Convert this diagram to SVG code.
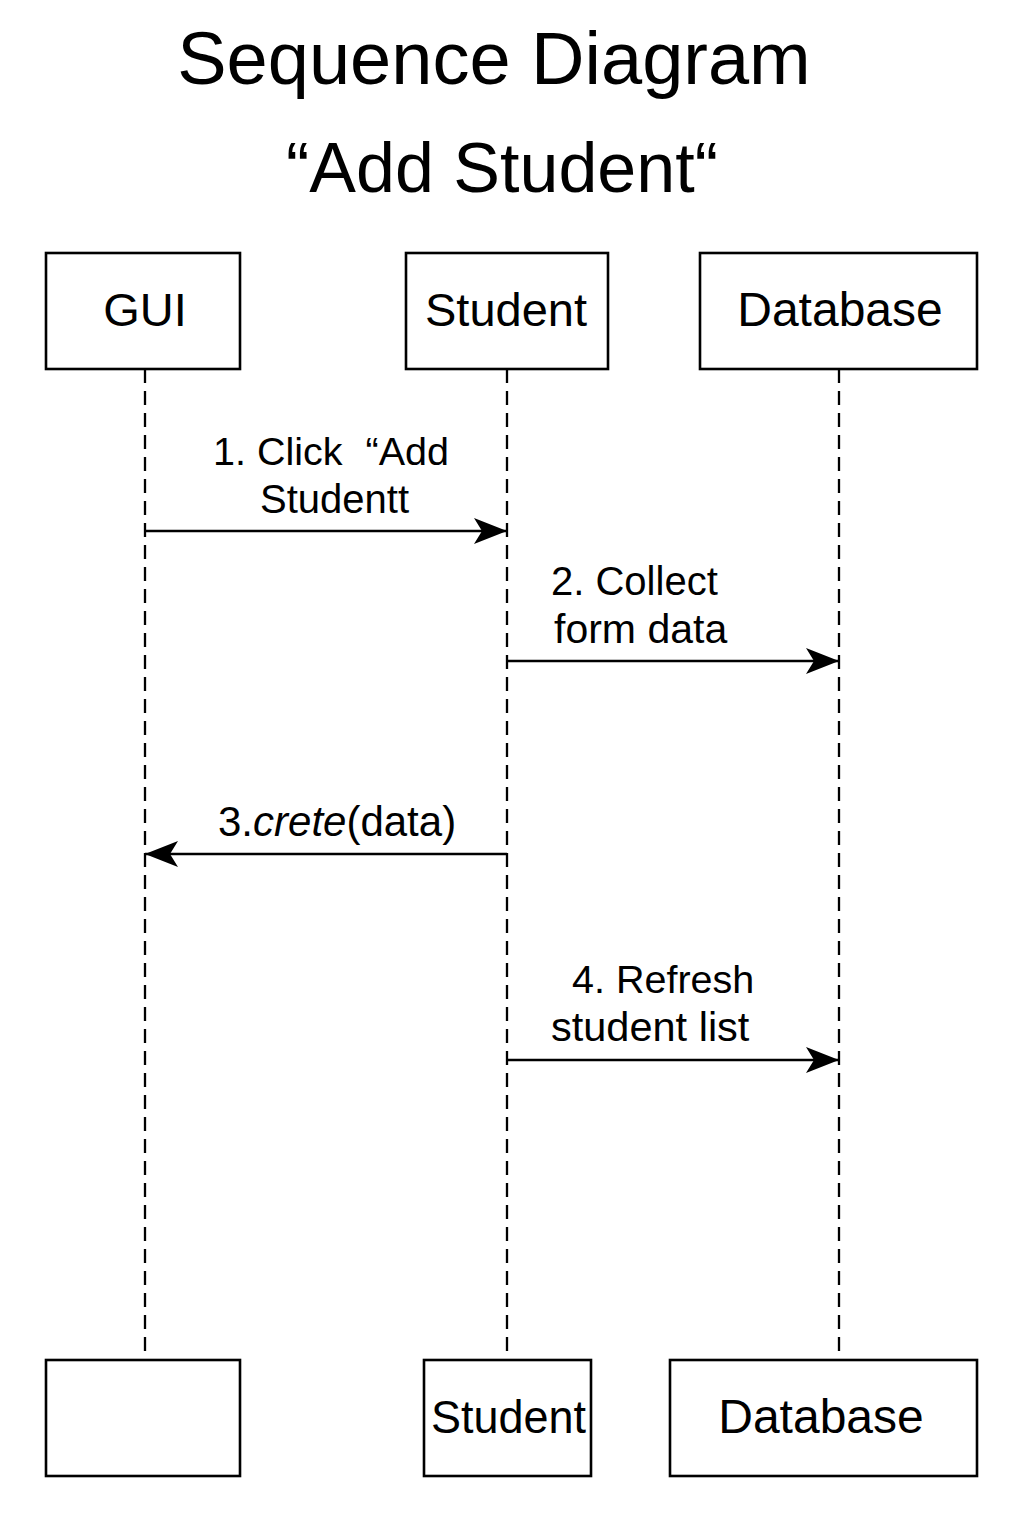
<svg xmlns="http://www.w3.org/2000/svg" width="1024" height="1536" viewBox="0 0 1024 1536">
<defs>
<style>
.t{font-family:"Liberation Sans",Arial,sans-serif;fill:#000}
.box{fill:#fff;stroke:#000;stroke-width:2.6}
.life{stroke:#000;stroke-width:2.3;stroke-dasharray:14 8;fill:none}
.msg{stroke:#000;stroke-width:2.6;fill:none}
</style>
<marker id="ah" markerUnits="userSpaceOnUse" markerWidth="36" markerHeight="28" refX="33" refY="13" orient="auto">
<path d="M0,0 L33,13 L0,26 L8,13 Z" fill="#000"/>
</marker>
</defs>
<rect width="1024" height="1536" fill="#fff"/>
<g id="title">
<text class="t" x="494" y="84" font-size="74" text-anchor="middle">Sequence Diagram</text>
<text class="t" x="502" y="192" font-size="70" text-anchor="middle">“Add Student“</text>
</g>
<g id="lifelines">
<line class="life" x1="145" y1="369" x2="145" y2="1360"/>
<line class="life" x1="507" y1="369" x2="507" y2="1360"/>
<line class="life" x1="839" y1="369" x2="839" y2="1360"/>
</g>
<g id="gui-top"><rect class="box" x="46" y="253" width="194" height="116"/><text class="t" x="145" y="326" font-size="47" text-anchor="middle">GUI</text></g>
<g id="student-top"><rect class="box" x="406" y="253" width="202" height="116"/><text class="t" x="506" y="326" font-size="47" text-anchor="middle">Student</text></g>
<g id="database-top"><rect class="box" x="700" y="253" width="277" height="116"/><text class="t" x="840" y="326" font-size="48" text-anchor="middle">Database</text></g>
<g id="gui-bottom"><rect class="box" x="46" y="1360" width="194" height="116"/></g>
<g id="student-bottom"><rect class="box" x="424" y="1360" width="167" height="116"/><text class="t" x="431" y="1433" font-size="46" textLength="155" lengthAdjust="spacingAndGlyphs">Student</text></g>
<g id="database-bottom"><rect class="box" x="670" y="1360" width="307" height="116"/><text class="t" x="821" y="1433" font-size="48" text-anchor="middle">Database</text></g>
<g id="connectors">
<line class="msg" x1="145" y1="531" x2="507" y2="531" marker-end="url(#ah)"/>
<line class="msg" x1="507" y1="661" x2="839" y2="661" marker-end="url(#ah)"/>
<line class="msg" x1="507" y1="854" x2="145" y2="854" marker-end="url(#ah)"/>
<line class="msg" x1="507" y1="1060" x2="839" y2="1060" marker-end="url(#ah)"/>
</g>
<g id="labels">
<text class="t" x="213" y="465" font-size="39.5">1. Click<tspan dx="23">“Add</tspan></text>
<text class="t" x="260" y="513" font-size="40">Studentt</text>
<text class="t" x="551" y="595" font-size="40">2. Collect</text>
<text class="t" x="554" y="643" font-size="41">form data</text>
<text class="t" x="218" y="836" font-size="42">3.<tspan font-style="italic">crete</tspan>(data)</text>
<text class="t" x="572" y="993" font-size="39.5">4. Refresh</text>
<text class="t" x="551" y="1041" font-size="41.5">student list</text>
</g>
</svg>
